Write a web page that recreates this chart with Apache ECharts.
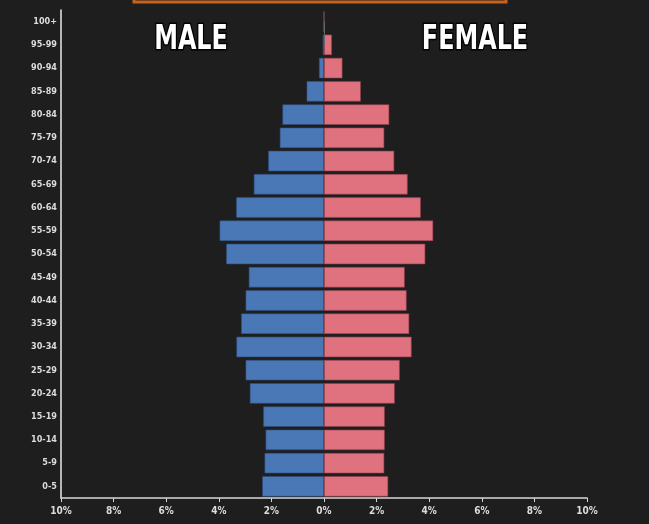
<!DOCTYPE html>
<html>
<head>
<meta charset="utf-8">
<script src="https://cdn.jsdelivr.net/npm/echarts@6/dist/echarts.min.js"></script>
<style>
  html, body { margin: 0; padding: 0; background: #1e1e1e; }
  #chart { width: 649px; height: 524px; }
</style>
</head>
<body>
<div id="chart"></div>
<script>
// age groups, bottom to top
const ageGroups = ['0-5', '5-9', '10-14', '15-19', '20-24', '25-29', '30-34', '35-39', '40-44', '45-49',
  '50-54', '55-59', '60-64', '65-69', '70-74', '75-79', '80-84', '85-89', '90-94', '95-99', '100+']

// share of population, %
const maleShare = [2.35, 2.26, 2.22, 2.31, 2.82, 2.98, 3.33, 3.15, 2.98, 2.86,
  3.72, 3.97, 3.34, 2.67, 2.12, 1.68, 1.58, 0.66, 0.19, 0.05, 0]
const femaleShare = [2.44, 2.29, 2.31, 2.31, 2.69, 2.88, 3.33, 3.24, 3.14, 3.07,
  3.85, 4.15, 3.68, 3.18, 2.67, 2.29, 2.48, 1.4, 0.7, 0.3, 0]

const xTicks = [-10, -8, -6, -4, -2, 0, 2, 4, 6, 8, 10]

const chart = echarts.init(document.getElementById('chart'))

const narrow = '"DejaVu Sans Condensed", "Liberation Sans Narrow", sans-serif'

const option = {
  backgroundColor: '#1e1e1e',
  animation: false,
  grid: { left: 61, right: 62, top: 10, bottom: 26 },
  xAxis: {
    type: 'value',
    min: xTicks[0],
    max: xTicks[xTicks.length - 1],
    interval: 2,
    axisLine: { show: true, lineStyle: { color: '#d8d8d8', width: 1.5 } },
    axisTick: { show: true, length: 4, lineStyle: { color: '#d8d8d8' } },
    splitLine: { show: false },
    axisLabel: {
      color: '#dcdcdc',
      fontFamily: narrow,
      fontWeight: 'bold',
      fontSize: 10,
      margin: 8,
      formatter: v => Math.abs(v) + '%'
    }
  },
  yAxis: {
    type: 'category',
    data: ageGroups,
    axisLine: { show: true, onZero: false, lineStyle: { color: '#e8e8e8', width: 1.5 } },
    axisTick: { show: false },
    axisLabel: {
      color: '#dcdcdc',
      fontFamily: narrow,
      fontWeight: 'bold',
      fontSize: 9,
      margin: 4
    }
  },
  graphic: [
    {
      type: 'rect',
      shape: { x: 134, y: -20, width: 372, height: 22 },
      style: { fill: 'transparent', stroke: '#c8621a', lineWidth: 3 }
    },
    {
      type: 'text',
      x: 191, y: 40,
      scaleX: 0.78,
      style: {
        text: 'MALE', fill: '#ffffff', stroke: '#000', lineWidth: 3,
        font: 'bold 34px ' + narrow, align: 'center', verticalAlign: 'middle'
      }
    },
    {
      type: 'text',
      x: 475, y: 40,
      scaleX: 0.78,
      style: {
        text: 'FEMALE', fill: '#ffffff', stroke: '#000', lineWidth: 3,
        font: 'bold 34px ' + narrow, align: 'center', verticalAlign: 'middle'
      }
    }
  ],
  series: [
    {
      name: 'Male',
      type: 'bar',
      stack: 'pop',
      data: maleShare.map(v => -v),
      barCategoryGap: '12%',
      itemStyle: { color: '#4a78b6', borderColor: '#2e4e7c', borderWidth: 0.6 },
      markLine: {
        silent: true,
        symbol: 'none',
        label: { show: false },
        lineStyle: { color: '#666', width: 1, type: 'solid' },
        data: [[{ coord: [0, '100+'] }, { coord: [0, '95-99'] }]]
      }
    },
    {
      name: 'Female',
      type: 'bar',
      stack: 'pop',
      data: femaleShare,
      barCategoryGap: '12%',
      itemStyle: { color: '#e0717f', borderColor: '#8e3f4a', borderWidth: 0.6 }
    }
  ]
}

chart.setOption(option)
window.addEventListener('resize', () => chart.resize())
</script>
</body>
</html>
